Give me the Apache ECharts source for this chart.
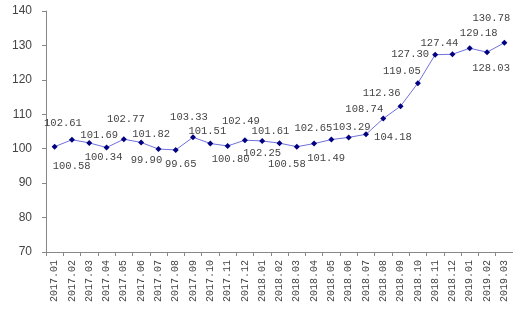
<!DOCTYPE html>
<html>
<head>
<meta charset="utf-8">
<script src="https://cdn.jsdelivr.net/npm/echarts@6/dist/echarts.min.js"></script>
<style>html,body{margin:0;padding:0;background:#fff}#c{width:513px;height:313px}</style>
</head>
<body>
<div id="c"></div>
<script>
var categories = ["2017.01","2017.02","2017.03","2017.04","2017.05","2017.06","2017.07","2017.08","2017.09","2017.10","2017.11","2017.12","2018.01","2018.02","2018.03","2018.04","2018.05","2018.06","2018.07","2018.08","2018.09","2018.10","2018.11","2018.12","2019.01","2019.02","2019.03"];
var values = [100.58,102.61,101.69,100.34,102.77,101.82,99.90,99.65,103.33,101.51,100.80,102.49,102.25,101.61,100.58,101.49,102.65,103.29,104.18,108.74,112.36,119.05,127.30,127.44,129.18,128.03,130.78];
var yTicks = [70,80,90,100,110,120,130,140];
// label placement offsets (style only)
var labelOffsets = [[17,20],[-9,-17],[10,-8],[-3,10],[2,-20],[10,-8],[-12,11],[5,14],[-4,-20],[-3,-12],[3,13],[-4,-19],[0,12],[-9,-12],[-10,18],[12,15],[-18,-11],[3,-10],[27,3],[-19,-9],[-19,-13],[-16,-12],[-25,-1],[-13,-11],[9,-15],[4,16],[-13,-25]];

var data = values.map(function(v,i){
  return {value:v, label:{offset:labelOffsets[i]}};
});
var chart = echarts.init(document.getElementById('c'));
chart.setOption({
  animation:false,
  grid:{left:46,right:0,top:11,bottom:61},
  xAxis:{
    type:'category', data:categories, boundaryGap:true,
    axisLine:{lineStyle:{color:'#888',width:1}},
    axisTick:{show:true,length:4,lineStyle:{color:'#888'}},
    axisLabel:{rotate:90,margin:8,color:'#444',fontFamily:'Liberation Mono',fontSize:10,interval:0}
  },
  yAxis:{
    type:'value', min:yTicks[0], max:yTicks[yTicks.length-1], interval:10,
    splitLine:{show:false},
    axisLine:{show:true,lineStyle:{color:'#888',width:1}},
    axisTick:{show:true,length:4,lineStyle:{color:'#888'}},
    axisLabel:{margin:14,color:'#444',fontFamily:'Liberation Sans',fontSize:12}
  },
  series:[{
    type:'line', data:data,
    symbol:'diamond', symbolSize:6,
    itemStyle:{color:'#000080'},
    lineStyle:{color:'#7070dd',width:1},
    label:{show:true,position:'inside',align:'center',verticalAlign:'middle',
      color:'#444',fontFamily:'Liberation Mono',fontSize:10.5,
      formatter:function(p){return p.value.toFixed(2);}}
  }]
});
</script>
</body>
</html>
